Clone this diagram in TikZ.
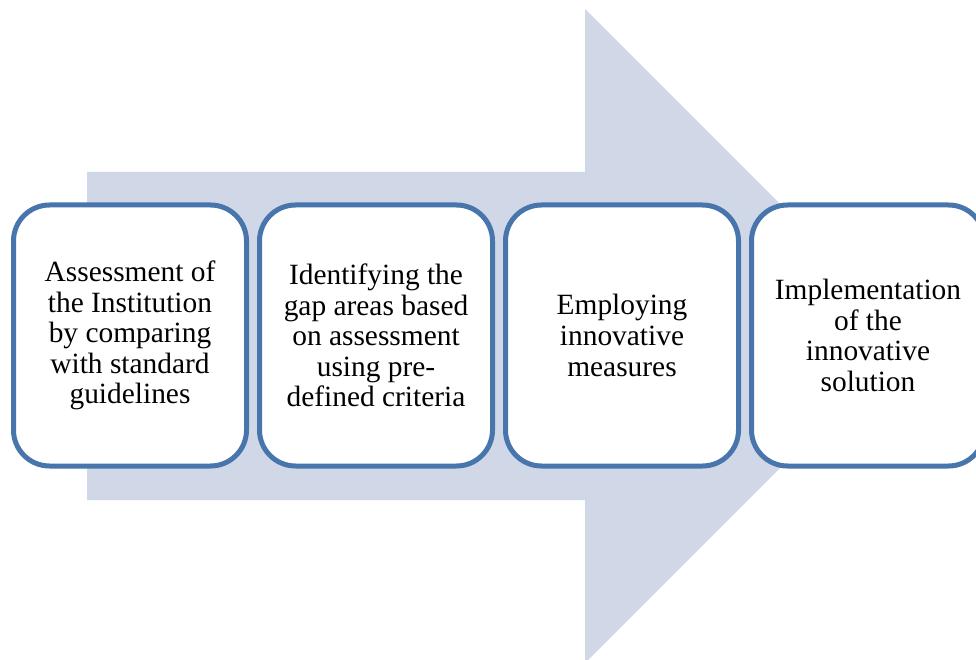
\documentclass[tikz,border=0pt]{standalone}
\usepackage{fontspec}
\setmainfont{Liberation Serif}
\definecolor{arrowfill}{RGB}{208,216,232}
\definecolor{boxline}{RGB}{71,117,172}
\tikzset{
  stepbox/.style={draw=boxline, line width=5pt, fill=white, rounded corners=36pt,
    minimum width=233pt, minimum height=261pt, align=center, inner sep=0pt,
    font=\fontsize{29.4}{30.6}\selectfont}
}
\begin{document}
\begin{tikzpicture}[x=1pt,y=-1pt]
\useasboundingbox (0,0) rectangle (976,660);
\clip (0,0) rectangle (976,660);
\fill[arrowfill] (87,172) -- (585,172) -- (585,9) -- (912,336) -- (585,663) -- (585,500) -- (87,500) -- cycle;
\node[stepbox] (s1) at (130,335.5) {Assessment of\\the Institution\\by comparing\\with standard\\guidelines};
\node[stepbox] (s2) at (376,335.5) {Identifying the\\gap areas based\\on assessment\\using pre-\\defined criteria};
\node[stepbox] (s3) at (622,335.5) {Employing\\innovative\\measures};
\node[stepbox] (s4) at (868,335.5) {Implementation\\of the\\innovative\\solution};
\end{tikzpicture}
\end{document}
